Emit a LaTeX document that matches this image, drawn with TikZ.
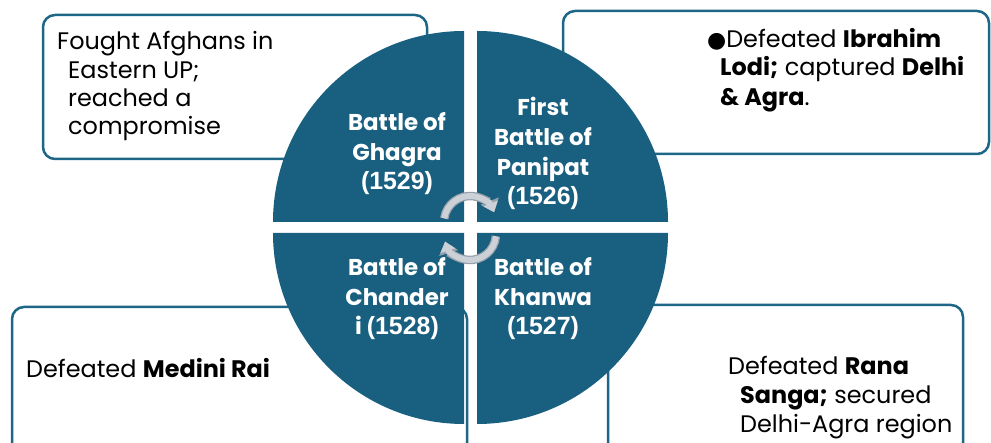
\documentclass[tikz,border=0pt]{standalone}
\usepackage{fontspec}
\setmainfont{Poppins}
\newfontfamily\numfont{Liberation Sans}
\newfontfamily\symfont{DejaVu Sans}
\usetikzlibrary{arrows.meta}
\definecolor{qblue}{HTML}{185F80}
\definecolor{bblue}{HTML}{1E6686}
\definecolor{arrowfill}{HTML}{CBD1D7}
\definecolor{arrowedge}{HTML}{95A0AA}
\newcommand{\yr}[1]{{\numfont\fontsize{25}{30}\selectfont #1}}
\begin{document}
\begin{tikzpicture}[x=1bp,y=1bp,
  infobox/.style={draw=bblue, line width=2.5bp, rounded corners=12bp, fill=white},
  quad/.style={fill=qblue},
  qtext/.style={text=white, font=\bfseries\fontsize{23}{30}\selectfont, align=center, inner sep=0pt, anchor=base},
  btext/.style={text=black, font=\fontsize{24}{28.5}\selectfont, align=left, inner sep=0pt, anchor=base west},
  arrowout/.style={draw=arrowedge, line width=8.5bp, -{Triangle[width=19bp,length=12bp]}},
  arrowin/.style={draw=arrowfill, line width=6bp, -{Triangle[width=15bp,length=9.5bp]}},
]
\useasboundingbox (0,0) rectangle (991,443);
\clip (0,0) rectangle (991,443);
% side boxes
\draw[infobox] (43,284) rectangle (427,428);
\draw[infobox] (563,289) rectangle (989,432);
\draw[infobox] (12,-20) rectangle (467,136);
\draw[infobox] (608,-20) rectangle (963,138);
% quadrants
\fill[quad] (464,221) -- (273,221) arc[start angle=180,end angle=90,radius=191bp] -- cycle;
\fill[quad] (477,221) -- (477,412) arc[start angle=90,end angle=0,radius=191bp] -- cycle;
\fill[quad] (464,210) -- (464,19) arc[start angle=270,end angle=180,radius=191bp] -- cycle;
\fill[quad] (477,210) -- (668,210) arc[start angle=0,end angle=-90,radius=191bp] -- cycle;
% quadrant texts (anchor = baseline of the last line)
\node[qtext] (ghagra) at (397,253) {Battle of\\Ghagra\\\yr{(1529)}};
\node[qtext] (panipat) at (543,238) {First\\Battle of\\Panipat\\\yr{(1526)}};
\node[qtext] (chanderi) at (397,108) {Battle of\\Chander\\i \yr{(1528)}};
\node[qtext] (khanwa) at (543,108) {Battle of\\Khanwa\\\yr{(1527)}};
% box texts
\node[btext] (tltext) at (57,308) {Fought Afghans in\\\hspace*{11bp}Eastern UP;\\\hspace*{11bp}reached a\\\hspace*{11bp}compromise};
\node[btext] (trtext) at (707,337) {{\symfont\fontsize{22}{22}\selectfont●}Defeated \textbf{Ibrahim}\\\hspace*{13bp}\textbf{Lodi;} captured \textbf{Delhi}\\[2bp]\hspace*{13bp}\textbf{\& Agra}.};
\node[btext] (bltext) at (26,65) {Defeated \textbf{Medini Rai}};
\node[btext] (brtext) at (728,10) {Defeated \textbf{Rana}\\\hspace*{12bp}\textbf{Sanga;} secured\\[1.5bp]\hspace*{12bp}Delhi-Agra region};
% circular arrows
\draw[arrowout] ([shift={(172:26bp)}]470,221) arc[start angle=172,end angle=22,radius=26bp];
\draw[arrowin] ([shift={(172:26bp)}]470,221) arc[start angle=172,end angle=22,radius=26bp];
\draw[arrowout] ([shift={(-5:26bp)}]470,209) arc[start angle=-5,end angle=-163,radius=26bp];
\draw[arrowin] ([shift={(-5:26bp)}]470,209) arc[start angle=-5,end angle=-163,radius=26bp];
\end{tikzpicture}
\end{document}
